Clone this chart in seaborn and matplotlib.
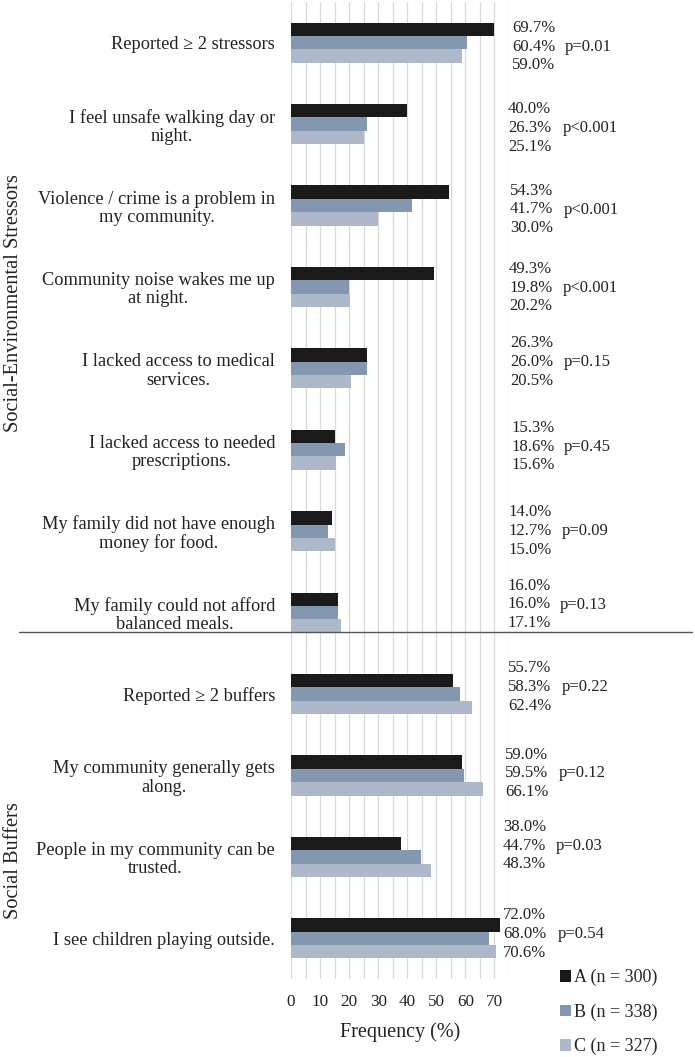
import matplotlib
matplotlib.use("Agg")
import matplotlib.pyplot as plt
from matplotlib.transforms import blended_transform_factory
from matplotlib.lines import Line2D
import seaborn as sns
import pandas as pd

# ---------------- data ----------------
categories = [
    "Reported \u2265 2 stressors",
    "I feel unsafe walking day or\nnight.",
    "Violence / crime is a problem in\nmy community.",
    "Community noise wakes me up\nat night.",
    "I lacked access to medical\nservices.",
    "I lacked access to needed\nprescriptions.",
    "My family did not have enough\nmoney for food.",
    "My family could not afford\nbalanced meals.",
    "Reported \u2265 2 buffers",
    "My community generally gets\nalong.",
    "People in my community can be\ntrusted.",
    "I see children playing outside.",
]
groups = ["A (n = 300)", "B (n = 338)", "C (n = 327)"]
values_A = [69.7, 40.0, 54.3, 49.3, 26.3, 15.3, 14.0, 16.0, 55.7, 59.0, 38.0, 72.0]
values_B = [60.4, 26.3, 41.7, 19.8, 26.0, 18.6, 12.7, 16.0, 58.3, 59.5, 44.7, 68.0]
values_C = [59.0, 25.1, 30.0, 20.2, 20.5, 15.6, 15.0, 17.1, 62.4, 66.1, 48.3, 70.6]
p_values = ["p=0.01", "p<0.001", "p<0.001", "p<0.001", "p=0.15", "p=0.45",
            "p=0.09", "p=0.13", "p=0.22", "p=0.12", "p=0.03", "p=0.54"]
section_labels = ["Social-Environmental Stressors", "Social Buffers"]
x_ticks = [0, 10, 20, 30, 40, 50, 60, 70]
x_label = "Frequency (%)"

# ---------------- layout (pixels of the reference) ----------------
W, H = 695, 1057
val_x_px = [512, 508, 510, 509, 510, 511, 508, 507, 508, 505, 503, 503]
p_x_px = [565, 563, 564, 563, 564, 564, 562, 560, 562, 559, 556, 558]
mid_dy_px = [2, 2, 2, -1, -8, -5, -2, -10, -9, -4, -13, -6]
line_px = 18.7

colors = ["#1a1a1a", "#8497b0", "#adb9ca"]

df = pd.DataFrame({
    "category": categories * 3,
    "group": [groups[0]] * 12 + [groups[1]] * 12 + [groups[2]] * 12,
    "value": values_A + values_B + values_C,
})

sns.set_style("white")
plt.rcParams["font.family"] = ["Liberation Serif", "DejaVu Serif"]

fig = plt.figure(figsize=(W / 100, H / 100), dpi=100)
ax_left, ax_right = 291 / W, 509 / W
ax_top, ax_bot = 1 - 2 / H, 1 - 979 / H
ax = fig.add_axes([ax_left, ax_bot, ax_right - ax_left, ax_top - ax_bot])

sns.barplot(data=df, x="value", y="category", hue="group", orient="h",
            palette=colors, order=categories, hue_order=groups,
            width=0.494, errorbar=None, linewidth=0, ax=ax, saturation=1)

ax.set_xlim(0, 75)
ax.set_ylim(len(categories) - 0.5, -0.5)
ax.set_xticks(x_ticks)
ax.set_xticks(list(range(0, 76, 5)), minor=True)
ax.grid(axis="x", which="both", color="#d9d9d9", linewidth=0.9)
ax.grid(axis="y", visible=False)
ax.set_axisbelow(True)
ax.tick_params(which="both", length=0)
ax.tick_params(axis="x", labelsize=12.3, pad=10.5, colors="#222222")
ax.tick_params(axis="y", labelsize=13.2, pad=11.5, colors="#222222")
for s in ax.spines.values():
    s.set_visible(False)
ax.set_ylabel("")
ax.set_xlabel(x_label, fontsize=14.5, labelpad=9, color="#222222")
for lab in ax.get_yticklabels():
    lab.set_multialignment("center")
    lab.set_linespacing(1.1)

# value & p labels
trans = blended_transform_factory(fig.transFigure, ax.transData)
unit_px = (979 - 2) / len(categories)
for i in range(len(categories)):
    vals = [values_A[i], values_B[i], values_C[i]]
    for k, v in enumerate(vals):
        yb = i + (mid_dy_px[i] + (k - 1) * line_px + 5.8) / unit_px
        ax.text(val_x_px[i] / W, yb, f"{v:.1f}%", transform=trans,
                ha="left", va="baseline", fontsize=12, color="#222222")
    yb = i + (mid_dy_px[i] + 6) / unit_px
    ax.text(p_x_px[i] / W, yb, p_values[i], transform=trans,
            ha="left", va="baseline", fontsize=12, color="#222222")

# section labels
fig.text(14 / W, 1 - 303 / H, section_labels[0], rotation=90, ha="center",
         va="center", fontsize=14.7, color="#222222")
fig.text(14 / W, 1 - 861 / H, section_labels[1], rotation=90, ha="center",
         va="center", fontsize=14.7, color="#222222")

# separator line
fig.add_artist(Line2D([19 / W, 692 / W], [1 - 632 / H, 1 - 632 / H],
                      transform=fig.transFigure, color="#555555", linewidth=1.0))

# legend
handles, labels = ax.get_legend_handles_labels()
if ax.get_legend() is not None:
    ax.get_legend().remove()
fig.legend(handles, labels, loc="upper left",
           bbox_to_anchor=(560 / W, 1 - 969 / H), frameon=False,
           borderpad=0, borderaxespad=0, handlelength=0.6, handleheight=0.6,
           handletextpad=0.2, labelspacing=0.95, prop={"size": 13})

fig.savefig("out.png", dpi=100)
